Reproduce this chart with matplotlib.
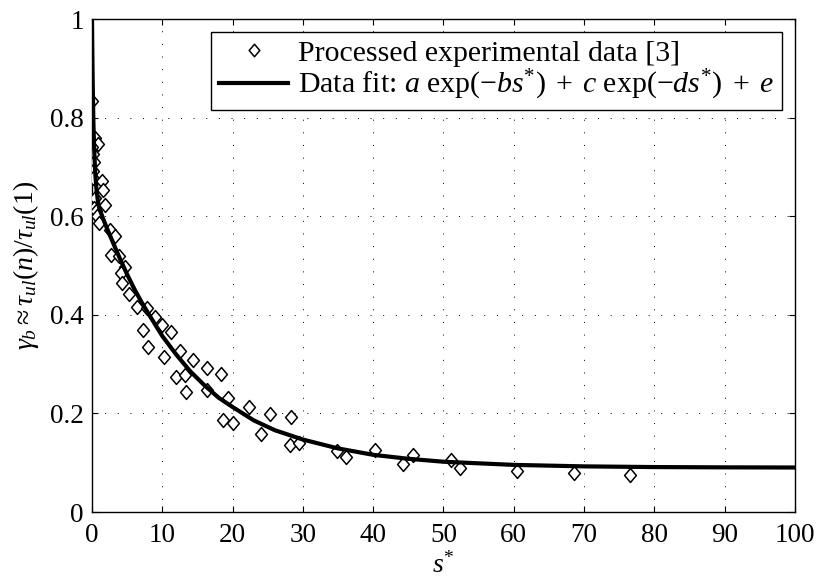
import matplotlib
matplotlib.use("Agg")
import matplotlib.pyplot as plt
from matplotlib.path import Path

plt.rcParams['font.family'] = ['Liberation Serif', 'DejaVu Serif']
plt.rcParams['mathtext.fontset'] = 'custom'
plt.rcParams['mathtext.rm'] = 'Liberation Serif'
plt.rcParams['mathtext.it'] = 'Liberation Serif:italic'
plt.rcParams['mathtext.bf'] = 'Liberation Serif:bold'

s_data = [0.0, 0.43, 0.8, 0.0, 0.2, 0.33, 0.2, 0.2, 1.4, 1.6, 0.43, 1.85, 0.33,
          0.5, 0.67, 1.0, 2.5, 3.3, 2.7, 3.8, 4.7, 4.1, 4.2, 5.2, 6.4, 7.8, 9.0,
          7.3, 7.9, 10.0, 11.2, 10.3, 12.5, 14.4, 11.9, 13.2, 13.3, 16.4, 18.4,
          16.3, 19.4, 18.7, 20.0, 22.3, 25.3, 24.0, 28.3, 28.1, 29.4, 34.9, 36.2,
          40.3, 44.3, 45.6, 51.1, 52.3, 60.4, 68.5, 76.6]
g_data = [0.834, 0.758, 0.747, 0.740, 0.726, 0.709, 0.691, 0.677, 0.671, 0.654,
          0.637, 0.622, 0.617, 0.611, 0.600, 0.586, 0.573, 0.559, 0.521, 0.520,
          0.496, 0.485, 0.465, 0.442, 0.416, 0.413, 0.396, 0.369, 0.334, 0.379,
          0.366, 0.315, 0.327, 0.309, 0.273, 0.278, 0.243, 0.292, 0.280, 0.248,
          0.232, 0.187, 0.180, 0.213, 0.198, 0.158, 0.193, 0.135, 0.140, 0.124,
          0.112, 0.125, 0.098, 0.115, 0.105, 0.090, 0.083, 0.079, 0.075]

# fitted curve
s_fit = [0, 0.05, 0.1, 0.2, 0.3, 0.45, 0.6, 0.8, 1, 1.5, 2, 3, 4, 5, 6, 7, 8,
         10, 12, 14, 16, 18, 20, 23, 26, 30, 35, 40, 45, 50, 60, 70, 80, 90, 100]
g_fit = [1.0, 0.93, 0.87, 0.79, 0.74, 0.69, 0.66, 0.635, 0.618, 0.598, 0.580,
         0.546, 0.513, 0.482, 0.453, 0.427, 0.403, 0.357, 0.319, 0.285, 0.257,
         0.232, 0.213, 0.186, 0.166, 0.147, 0.129, 0.116, 0.108, 0.102, 0.0956,
         0.0926, 0.0912, 0.0906, 0.0903]

diamond = Path([(0, 1), (0.85, 0), (0, -1), (-0.85, 0), (0, 1)],
               [Path.MOVETO, Path.LINETO, Path.LINETO, Path.LINETO, Path.CLOSEPOLY])

fig = plt.figure(figsize=(8.2, 5.8), dpi=100)
ax = fig.add_axes([0.1122, 0.1172, 0.8573, 0.85])

ax.plot(s_data, g_data, linestyle='None', marker=diamond, markersize=10,
        markerfacecolor='white', markeredgecolor='black', markeredgewidth=1.1,
        label='Processed experimental data [3]', zorder=3)
ax.plot(s_fit, g_fit, color='black', linewidth=3,
        label=r'Data fit: $a\ \exp(-bs^{*})\;+\;c\ \exp(-ds^{*})\;+\;e$', zorder=4)

ax.set_xlim(0, 100)
ax.set_ylim(0, 1)
ax.set_xticks(range(0, 101, 10))
ax.set_yticks([0, 0.2, 0.4, 0.6, 0.8, 1])
ax.set_yticklabels(['0', '0.2', '0.4', '0.6', '0.8', '1'])
ax.tick_params(direction='in', top=True, right=True, length=4, width=0.8,
               labelsize=19.5)
ax.tick_params(axis='x', pad=8)
ax.tick_params(axis='y', pad=6)
for sp in ax.spines.values():
    sp.set_linewidth(1.0)

ax.grid(True, color='black', linewidth=0.7, linestyle=(0, (1, 12)))
ax.set_axisbelow(True)

ax.set_xlabel(r'$s^{*}$', fontsize=20, labelpad=3)
ax.set_ylabel(r'$\gamma_b \approx \tau_{ul}(n)/\tau_{ul}(1)$', fontsize=20, labelpad=6)

leg = ax.legend(loc='upper right', fontsize=21.5, frameon=True, fancybox=False,
                edgecolor='black', framealpha=1, borderaxespad=0.45,
                handlelength=2.33, handletextpad=0.33, borderpad=0.25,
                labelspacing=0.05, markerscale=0.9)
leg.get_frame().set_linewidth(1.0)

fig.savefig('out.png', dpi=100)
